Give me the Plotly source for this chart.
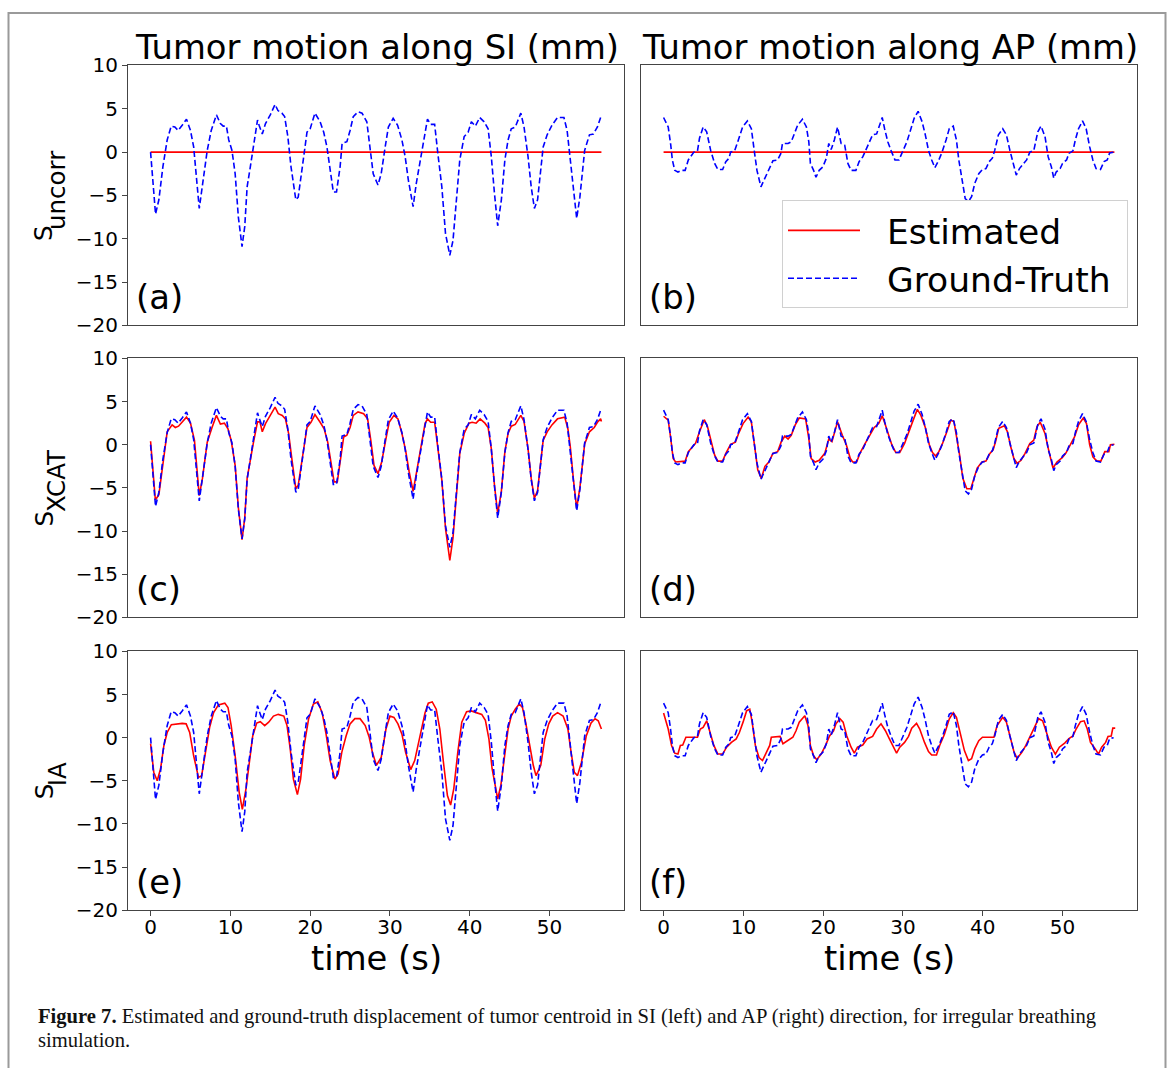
import plotly.graph_objects as go

W = 1171
HF = 1080          # figure height in page pixels
VS, VO = 0.978, 11.5   # observed vertical scale / offset of the photographed page

# ---------------- data ----------------
x_ticks = [0, 10, 20, 30, 40, 50]
y_ticks = [-20, -15, -10, -5, 0, 5, 10]

# Uncorrected estimate (constant zero)
t_uncorr = [0, 56.5]
y_uncorr_si = [0, 0]
y_uncorr_ap = [0, 0]

# Ground truth SI
t_gt_si = [0, 0.62, 1.04, 1.54, 2.08, 2.58, 3.04, 3.46, 3.96, 4.5,
           5.0, 5.4, 6.1, 6.5, 7.1, 7.6, 8.25, 8.75, 9.1, 9.5,
           9.8, 10.2, 10.6, 11.0, 11.46, 11.8, 12.1, 12.5, 12.9, 13.4,
           13.6, 14.0, 14.4, 15.0, 15.6, 15.96, 16.46, 16.8, 17.2, 17.6,
           18.2, 18.5, 18.96, 19.6, 20.0, 20.6, 21.25, 21.7, 22.1, 22.5,
           22.9, 23.3, 23.75, 24.0, 24.6, 25.0, 25.4, 26.0, 26.5, 27.1,
           27.5, 27.9, 28.5, 28.9, 29.4, 29.8, 30.4, 30.96, 31.5, 31.9,
           32.3, 32.9, 33.3, 33.9, 34.4, 34.7, 35.1, 35.6, 36.0, 36.5,
           36.96, 37.5, 37.9, 38.3, 38.75, 39.3, 39.8, 40.2, 40.7, 41.25,
           41.8, 42.3, 42.7, 43.1, 43.5, 43.96, 44.4, 44.8, 45.2, 45.7,
           46.4, 46.8, 47.3, 47.7, 48.1, 48.5, 49.2, 49.7, 50.3, 51.0,
           51.8, 52.2, 52.5, 52.9, 53.4, 53.8, 54.4, 55.0, 55.5, 56.0,
           56.4]
y_gt_si = [0, -7.15, -5.5, -1.7, 1.4, 3.0, 2.9, 2.5, 3.1, 3.8,
           2.5, 0.6, -6.5, -4.0, 0.2, 2.5, 4.3, 3.3, 3.0, 3.0,
           1.4, 0.2, -2.5, -7.5, -10.9, -8.6, -4.0, -1.7, 0.6, 3.7,
           3.1, 2.1, 3.3, 4.3, 5.5, 4.8, 4.5, 4.1, 1.8, -1.7,
           -5.5, -5.2, -2.1, 2.3, 2.7, 4.5, 3.5, 2.3, 0.6, -2.1,
           -4.6, -4.6, -1.7, 1.0, 1.2, 2.5, 4.1, 4.65, 4.5, 3.5,
           0.6, -2.5, -3.8, -2.5, 0.6, 2.9, 3.9, 3.1, 1.4, -0.5,
           -3.2, -6.3, -3.6, -0.5, 2.5, 3.8, 3.2, 3.2, -0.15, -4.0,
           -9.4, -11.9, -10.2, -5.5, -0.9, 1.8, 2.3, 3.5, 3.0, 4.0,
           3.5, 2.7, -0.5, -4.8, -8.5, -5.5, -0.9, 1.4, 2.7, 2.9,
           4.5, 2.9, -0.5, -4.0, -6.5, -5.5, 0.6, 2.0, 3.1, 4.0,
           4.0, 2.5, -0.15, -4.0, -7.65, -5.2, 0.2, 2.0, 2.1, 2.9,
           4.0]

# XCAT estimate SI
t_xcat_si = [0, 0.6, 1.04, 1.54, 2.08, 2.7, 3.1, 3.5, 4.0, 4.5,
             5.0, 5.5, 5.8, 6.1, 6.5, 7.1, 7.7, 8.25, 8.75, 9.25,
             9.7, 10.1, 10.6, 11.0, 11.46, 11.8, 12.1, 12.5, 12.9, 13.4,
             13.7, 14.0, 14.4, 15.0, 15.6, 16.0, 16.5, 16.9, 17.3, 17.7,
             18.2, 18.5, 18.96, 19.6, 20.1, 20.6, 21.25, 21.75, 22.2, 22.6,
             23.0, 23.4, 23.8, 24.2, 24.6, 25.0, 25.4, 26.0, 26.7, 27.2,
             27.6, 28.0, 28.5, 28.96, 29.5, 29.9, 30.5, 31.0, 31.5, 31.96,
             32.4, 32.9, 33.3, 33.9, 34.4, 34.7, 35.1, 35.6, 36.0, 36.5,
             36.96, 37.5, 37.9, 38.3, 38.75, 39.3, 39.9, 40.3, 40.8, 41.3,
             41.9, 42.3, 42.7, 43.1, 43.5, 43.96, 44.4, 44.8, 45.2, 45.7,
             46.4, 46.8, 47.3, 47.7, 48.1, 48.5, 49.2, 49.7, 50.3, 51.0,
             51.9, 52.3, 52.6, 53.0, 53.4, 53.8, 54.4, 55.0, 55.6, 56.0,
             56.4, 56.5]
y_xcat_si = [0.4, -6.4, -5.8, -2.0, 1.5, 2.3, 2.0, 2.15, 2.7, 3.2,
             2.5, 0.5, -2.7, -5.9, -3.9, 0.3, 2.0, 3.4, 2.4, 2.5,
             1.85, 0.5, -2.4, -7.3, -11.0, -8.5, -3.9, -1.6, 0.3, 2.65,
             2.65, 1.5, 2.45, 3.4, 4.35, 3.6, 3.4, 3.0, 1.3, -1.6,
             -5.1, -4.7, -1.9, 2.0, 2.6, 3.5, 2.6, 1.85, 0.3, -2.2,
             -4.3, -4.3, -1.6, 0.9, 1.1, 2.0, 3.4, 3.8, 3.6, 3.0,
             0.5, -2.4, -3.35, -2.0, 0.7, 2.6, 3.4, 3.0, 1.3, -0.65,
             -3.1, -5.4, -3.35, -0.4, 2.45, 3.0, 2.6, 2.6, -0.25, -4.1,
             -9.7, -13.4, -10.8, -5.8, -1.0, 1.3, 2.5, 2.6, 2.5, 3.0,
             2.5, 2.0, -0.45, -4.7, -8.0, -5.4, -0.8, 1.3, 2.15, 2.35,
             3.4, 2.7, -0.45, -3.9, -6.2, -5.3, 0.5, 1.5, 2.3, 3.0,
             3.2, 1.85, -0.25, -4.1, -7.35, -5.0, 0.1, 1.5, 2.0, 2.6,
             3.0, 2.7]

# IA estimate SI
t_ia_si = [0, 0.4, 0.83, 1.25, 1.67, 2.08, 2.6, 3.3, 3.96, 4.46,
           4.9, 5.4, 6.0, 6.4, 6.9, 7.4, 7.9, 8.5, 9.3, 9.7,
           10.1, 10.6, 11.1, 11.5, 11.96, 12.4, 12.8, 13.3, 13.75, 14.3,
           14.8, 15.4, 16.0, 16.7, 17.1, 17.5, 17.9, 18.4, 18.8, 19.25,
           19.8, 20.4, 20.96, 21.5, 21.96, 22.5, 23.1, 23.5, 23.96, 24.5,
           25.0, 25.6, 26.25, 26.9, 27.4, 27.8, 28.3, 28.9, 29.5, 30.0,
           30.5, 31.0, 31.5, 31.96, 32.6, 33.1, 33.75, 34.4, 34.8, 35.3,
           35.8, 36.25, 36.7, 37.2, 37.6, 38.0, 38.5, 39.0, 39.6, 40.2,
           40.8, 41.5, 41.96, 42.4, 42.8, 43.5, 43.9, 44.4, 44.8, 45.2,
           45.7, 46.2, 46.6, 47.0, 47.4, 47.96, 48.3, 48.9, 49.4, 49.9,
           50.4, 51.0, 51.7, 52.3, 52.7, 53.1, 53.5, 54.0, 54.6, 55.2,
           55.7, 56.1, 56.5]
y_ia_si = [-0.7, -4.0, -5.0, -3.6, -0.9, 0.6, 1.5, 1.6, 1.65, 1.6,
           0.6, -2.1, -4.6, -4.4, -1.7, 1.2, 2.9, 3.8, 4.0, 3.5,
           1.4, -2.1, -6.3, -8.3, -5.9, -2.5, 0.2, 1.7, 1.85, 1.4,
           1.8, 2.5, 2.7, 2.5, 1.4, -1.3, -4.8, -6.6, -4.8, -0.9,
           2.15, 3.9, 4.15, 2.9, 0.6, -2.65, -4.8, -4.2, -1.7, 0.2,
           1.6, 2.2, 2.2, 1.4, 0.05, -1.7, -3.2, -2.3, 1.0, 2.5,
           2.35, 1.6, 0.4, -1.7, -3.7, -2.65, 0.2, 2.9, 4.0, 4.15,
           3.3, 1.0, -2.85, -6.7, -7.8, -5.9, -1.7, 1.8, 3.0, 3.1,
           2.9, 2.7, 2.0, -0.15, -3.6, -7.1, -5.5, -1.7, 1.0, 2.5,
           3.3, 3.9, 3.5, 1.8, -0.5, -3.2, -4.4, -3.2, -0.15, 1.6,
           2.5, 2.9, 2.5, 1.0, -1.7, -4.0, -4.4, -2.85, 0.2, 1.7,
           2.2, 1.95, 1.0]

# Ground truth AP
t_gt_ap = [0, 0.58, 0.875, 1.1, 1.4, 1.8, 2.25, 2.7, 3.1, 3.5,
           3.8, 4.25, 4.5, 4.96, 5.4, 5.9, 6.4, 6.8, 7.4, 7.8,
           8.2, 8.4, 8.9, 9.3, 9.9, 10.5, 11.0, 11.3, 11.7, 12.2,
           12.7, 13.2, 13.7, 14.3, 14.7, 14.9, 15.6, 16.0, 16.4, 16.8,
           17.4, 17.9, 18.2, 18.4, 18.8, 19.1, 19.5, 19.96, 20.4, 20.7,
           21.0, 21.4, 21.8, 22.25, 22.7, 23.1, 23.5, 24.1, 24.5, 24.96,
           25.3, 25.7, 26.2, 26.7, 27.0, 27.4, 27.7, 28.1, 28.5, 29.0,
           29.5, 29.96, 30.5, 31.0, 31.4, 31.9, 32.4, 32.8, 33.2, 33.6,
           34.0, 34.5, 34.9, 35.4, 35.8, 36.3, 36.7, 37.0, 37.4, 37.8,
           38.2, 38.6, 39.0, 39.5, 39.96, 40.4, 40.8, 41.2, 41.5, 41.96,
           42.5, 42.96, 43.4, 43.8, 44.2, 44.6, 45.0, 45.5, 45.9, 46.4,
           46.9, 47.3, 47.8, 48.2, 48.6, 48.9, 49.2, 49.7, 50.0, 50.5,
           50.8, 51.3, 51.6, 52.0, 52.5, 52.96, 53.4, 53.8, 54.2, 54.75,
           55.2, 55.6, 55.9, 56.4]
y_gt_ap = [4.0, 2.9, 1.0, -0.9, -2.1, -2.3, -2.1, -2.1, -0.9, -0.35,
           0.0, 0.15, 1.6, 2.9, 2.35, 0.2, -1.3, -2.0, -2.0, -1.1,
           -0.7, 0.0, 0.15, 1.2, 2.9, 3.6, 2.7, 0.6, -2.1, -4.0,
           -3.0, -2.1, -1.0, -0.9, -0.15, 1.0, 1.0, 1.2, 2.15, 3.1,
           3.8, 2.9, 1.2, -1.3, -2.1, -2.9, -2.1, -1.7, -0.7, 1.0,
           0.3, 1.4, 2.9, 1.0, 0.8, -1.3, -2.1, -2.1, -1.1, -0.55,
           0.15, 1.0, 2.0, 2.1, 2.9, 4.0, 2.7, 1.2, 0.2, -0.9,
           -0.9, 0.0, 1.2, 2.7, 3.9, 4.7, 3.5, 2.0, 0.2, -0.9,
           -1.8, -0.9, 0.0, 1.4, 2.7, 3.0, 1.4, -0.9, -3.2, -5.35,
           -5.7, -5.15, -3.6, -2.5, -2.0, -1.9, -1.1, -0.7, 0.2, 2.0,
           2.7, 2.0, 0.2, -1.3, -2.65, -1.9, -1.5, -0.9, 0.0, 0.2,
           2.35, 3.0, 1.8, -0.55, -1.7, -3.0, -2.3, -1.9, -1.3, -0.9,
           -0.15, 0.15, 1.4, 2.7, 3.6, 2.7, 0.6, -0.9, -1.9, -2.0,
           -1.1, -0.9, -0.1, 0.0]

# XCAT estimate AP
t_xcat_ap = [0, 0.58, 0.9, 1.2, 1.5, 2.7, 3.1, 3.5, 4.0, 4.5,
             5.1, 5.5, 6.0, 6.4, 6.8, 7.4, 7.8, 8.4, 9.0, 9.4,
             9.96, 10.6, 11.0, 11.4, 11.8, 12.25, 12.7, 13.2, 13.7, 14.3,
             14.75, 15.2, 15.6, 16.0, 16.5, 17.0, 17.8, 18.2, 18.5, 19.0,
             19.5, 20.2, 20.7, 21.1, 21.5, 21.8, 22.4, 22.9, 23.4, 23.7,
             24.2, 24.6, 25.2, 25.8, 26.4, 26.96, 27.4, 27.8, 28.2, 28.6,
             29.1, 29.6, 30.2, 30.7, 31.2, 31.8, 32.25, 32.8, 33.3, 33.7,
             34.1, 34.5, 34.96, 35.5, 36.0, 36.4, 36.8, 37.1, 37.5, 38.0,
             38.5, 38.9, 39.3, 39.9, 40.4, 40.9, 41.3, 41.6, 42.0, 42.7,
             43.1, 43.5, 43.9, 44.3, 44.8, 45.3, 45.9, 46.4, 46.8, 47.2,
             47.8, 48.3, 48.8, 49.3, 49.96, 50.4, 50.99, 51.5, 52.0, 52.6,
             53.0, 53.4, 53.8, 54.3, 54.8, 55.3, 55.8, 56.0, 56.5]
y_xcat_ap = [3.3, 2.85, 0.7, -1.6, -2.0, -1.9, -0.8, -0.4, 0.15, 1.5,
             2.9, 2.1, 0.15, -1.2, -1.9, -1.9, -1.0, 0.05, 0.3, 1.3,
             2.45, 3.2, 2.65, 0.0, -2.9, -3.9, -2.5, -2.0, -1.0, -0.8,
             0.35, 1.0, 0.65, 1.1, 2.3, 3.1, 3.0, 0.7, -1.6, -2.0,
             -1.8, -1.0, 0.65, 0.35, 1.7, 2.65, 1.1, 0.0, -1.6, -2.0,
             -2.0, -1.0, 0.05, 1.1, 2.0, 2.45, 3.35, 2.3, 1.1, 0.0,
             -0.9, -0.9, 0.15, 1.5, 2.65, 4.1, 3.4, 2.0, 0.0, -0.9,
             -1.3, -0.8, 0.15, 1.5, 2.85, 2.65, 0.7, -1.2, -3.9, -5.1,
             -5.1, -3.9, -2.7, -2.0, -1.9, -1.0, -0.6, 0.35, 1.9, 2.2,
             1.5, -0.2, -1.6, -2.15, -1.8, -1.0, 0.15, 0.55, 2.1, 2.6,
             1.3, -0.8, -2.7, -2.0, -1.5, -1.0, 0.05, 0.9, 2.3, 3.1,
             2.45, 0.0, -1.4, -1.9, -1.9, -0.8, -0.8, 0.0, 0.05]

# IA estimate AP
t_ia_ap = [0, 0.58, 1.0, 1.4, 1.8, 2.1, 2.4, 2.8, 3.3, 4.25,
           4.6, 4.96, 5.4, 5.8, 6.3, 6.8, 7.4, 7.9, 8.5, 9.1,
           9.5, 9.96, 10.4, 10.8, 11.1, 11.5, 11.96, 12.4, 12.8, 13.3,
           13.5, 14.1, 14.6, 14.96, 15.6, 16.2, 16.6, 17.0, 17.7, 18.1,
           18.4, 18.8, 19.2, 19.75, 20.3, 20.8, 21.3, 21.6, 22.1, 22.5,
           22.96, 23.5, 23.9, 24.3, 24.96, 25.5, 26.2, 26.7, 27.25, 27.8,
           28.3, 28.8, 29.2, 29.6, 30.2, 30.7, 31.1, 31.7, 32.1, 32.7,
           33.2, 33.6, 34.2, 34.6, 35.2, 35.8, 36.3, 36.7, 37.1, 37.7,
           38.2, 38.6, 39.0, 39.5, 39.96, 41.4, 41.8, 42.5, 42.96, 43.4,
           43.9, 44.3, 44.9, 45.4, 46.0, 46.5, 47.0, 47.5, 48.1, 48.6,
           49.1, 49.6, 50.3, 50.8, 51.3, 51.7, 52.25, 52.7, 53.1, 53.5,
           54.1, 54.5, 54.9, 55.4, 55.7, 56.1, 56.3, 56.6]
y_ia_ap = [2.85, 1.0, -0.9, -1.8, -1.9, -0.9, -0.85, 0.05, 0.05, 0.05,
           1.0, 1.2, 1.95, 0.8, -0.9, -1.9, -1.9, -1.1, -0.55, -0.15,
           0.6, 1.8, 3.1, 3.3, 1.8, -0.9, -2.3, -2.65, -1.9, -0.9,
           0.05, 0.15, 0.15, -0.7, -0.35, 0.05, 0.8, 1.8, 2.55, 1.4,
           -0.9, -2.1, -2.55, -1.9, -0.9, 0.2, 0.8, 1.6, 2.2, 1.8,
           0.2, -1.1, -1.8, -1.1, -0.85, -0.15, 0.15, 1.0, 1.6, 0.8,
           -0.15, -1.1, -1.8, -1.1, -0.55, 0.15, 1.1, 1.65, 1.0, -0.55,
           -1.6, -2.0, -2.0, -0.9, 0.4, 2.15, 2.9, 2.35, 0.8, -1.5,
           -2.65, -2.45, -1.3, -0.35, 0.05, 0.05, 1.4, 2.35, 1.8, 0.05,
           -1.6, -2.4, -1.7, -0.9, 0.2, 1.2, 2.2, 1.95, 0.2, -1.1,
           -1.9, -1.1, -0.6, -0.1, 0.2, 1.0, 1.85, 1.95, 1.0, -0.55,
           -1.3, -1.9, -1.1, -0.55, 0.15, 0.2, 1.1, 1.1]

col_titles = ["Tumor motion along SI (mm)", "Tumor motion along AP (mm)"]
row_labels = [("S", "uncorr"), ("S", "XCAT"), ("S", "IA")]
panel_letters = ["(a)", "(b)", "(c)", "(d)", "(e)", "(f)"]
legend_names = ["Estimated", "Ground-Truth"]
x_label = "time (s)"
caption_line1 = ("<b>Figure 7.</b> Estimated and ground-truth displacement of tumor centroid "
                 "in SI (left) and AP (right) direction, for irregular breathing")
caption_line2 = "simulation."

# ---------------- layout geometry (target pixels in the 1171x1068 picture) ----------------
COL_PX = [(128, 624), (641, 1137)]
ROW_PX = [(65, 325), (358, 617), (651, 910)]
X_RANGE = [-2.83, 59.33]
Y_RANGE = [-20, 10]
SPINE = "#444444"
FONT = "DejaVu Sans"
RED = "#ff0000"
BLUE = "#0000ff"
NBSP = "\u00a0"
BIG = 33.8


def fx(p):
    return p / W


def fy(p):
    page = (p - VO) / VS
    return 1 - page / HF


panels = [
    (t_uncorr, y_uncorr_si, t_gt_si, y_gt_si),
    (t_uncorr, y_uncorr_ap, t_gt_ap, y_gt_ap),
    (t_xcat_si, y_xcat_si, t_gt_si, y_gt_si),
    (t_xcat_ap, y_xcat_ap, t_gt_ap, y_gt_ap),
    (t_ia_si, y_ia_si, t_gt_si, y_gt_si),
    (t_ia_ap, y_ia_ap, t_gt_ap, y_gt_ap),
]

fig = go.Figure()
layout_axes = {}
for i, (te, ye, tg, yg) in enumerate(panels):
    n = i + 1
    row, col = i // 2, i % 2
    xa = "x" if n == 1 else f"x{n}"
    ya = "y" if n == 1 else f"y{n}"
    fig.add_trace(go.Scatter(x=te, y=ye, mode="lines", xaxis=xa, yaxis=ya,
                             name=NBSP * 2 + legend_names[0], legendgroup="est",
                             showlegend=(n == 1), hoverinfo="skip",
                             line=dict(color=RED, width=1.6)))
    fig.add_trace(go.Scatter(x=tg, y=yg, mode="lines", xaxis=xa, yaxis=ya,
                             name=NBSP * 2 + legend_names[1] + NBSP, legendgroup="gt",
                             showlegend=(n == 1), hoverinfo="skip",
                             line=dict(color=BLUE, width=1.6, dash="6px,3px")))
    c0, c1 = COL_PX[col]
    r0, r1 = ROW_PX[row]
    xkey = "xaxis" if n == 1 else f"xaxis{n}"
    ykey = "yaxis" if n == 1 else f"yaxis{n}"
    bottom = row == 2
    left = col == 0
    layout_axes[xkey] = dict(
        domain=[fx(c0), fx(c1)], range=X_RANGE, anchor=ya,
        showline=True, linecolor=SPINE, linewidth=1.2, mirror=True,
        showgrid=False, zeroline=False,
        tickmode="array", tickvals=x_ticks if bottom else [],
        ticks="outside" if bottom else "", ticklen=5, tickcolor=SPINE,
        showticklabels=bottom, ticklabelstandoff=-6,
        tickfont=dict(family=FONT, size=20, color="black"),
    )
    layout_axes[ykey] = dict(
        domain=[fy(r1), fy(r0)], range=Y_RANGE, anchor=xa,
        showline=True, linecolor=SPINE, linewidth=1.2, mirror=True,
        showgrid=False, zeroline=False,
        tickmode="array", tickvals=y_ticks if left else [],
        ticks="outside" if left else "", ticklen=5, tickcolor=SPINE,
        showticklabels=left,
        tickfont=dict(family=FONT, size=20, color="black"),
    )

annotations = []
for col, title in enumerate(col_titles):
    c0, c1 = COL_PX[col]
    annotations.append(dict(text=title, x=fx((c0 + c1) / 2 + 1), y=fy(47),
                            xref="paper", yref="paper", xanchor="center", yanchor="middle",
                            showarrow=False, font=dict(family=FONT, size=BIG, color="black")))
    annotations.append(dict(text=x_label, x=fx((c0 + c1) / 2), y=fy(958),
                            xref="paper", yref="paper", xanchor="center", yanchor="middle",
                            showarrow=False, borderpad=0,
                            font=dict(family=FONT, size=BIG, color="black")))

SUB_W = {"uncorr": 78, "XCAT": 64, "IA": 24}
for row, (main, sub) in enumerate(row_labels):
    r0, r1 = ROW_PX[row]
    rc = (r0 + r1) / 2
    L = 15 + SUB_W[sub]
    annotations.append(dict(text=main, x=fx(44), y=fy(rc + L / 2), textangle=-90,
                            xref="paper", yref="paper", xanchor="center", yanchor="bottom",
                            showarrow=False, borderpad=0,
                            font=dict(family=FONT, size=24.5, color="black")))
    annotations.append(dict(text=sub, x=fx(57), y=fy(rc - L / 2), textangle=-90,
                            xref="paper", yref="paper", xanchor="center", yanchor="top",
                            showarrow=False, borderpad=0,
                            font=dict(family=FONT, size=24.5, color="black")))

for i, letter in enumerate(panel_letters):
    row, col = i // 2, i % 2
    c0, _ = COL_PX[col]
    _, r1 = ROW_PX[row]
    annotations.append(dict(text=letter, x=fx(c0 + 7), y=fy(r1 - 28),
                            xref="paper", yref="paper", xanchor="left", yanchor="middle",
                            showarrow=False, borderpad=0,
                            font=dict(family=FONT, size=BIG, color="black")))

for text, ypx in ((caption_line1, 1016), (caption_line2, 1040)):
    annotations.append(dict(text=text, x=fx(36), y=fy(ypx), xref="paper", yref="paper",
                            xanchor="left", yanchor="middle", align="left", showarrow=False,
                            font=dict(family="Liberation Serif", size=20.6, color="#111111")))

fig.update_layout(
    width=W, height=HF,
    margin=dict(l=0, r=0, t=0, b=0),
    paper_bgcolor="white", plot_bgcolor="white",
    annotations=annotations,
    showlegend=True,
    hovermode=False,
    legend=dict(x=fx(782), y=fy(200), xanchor="left", yanchor="top",
                bgcolor="rgba(255,255,255,0.85)", bordercolor="#d0d0d0", borderwidth=1,
                font=dict(family=FONT, size=34.5, color="black"),
                itemwidth=72, tracegroupgap=0, traceorder="grouped"),
    shapes=[dict(type="rect", xref="paper", yref="paper",
                 x0=fx(8.5), x1=fx(1165.5), y0=-0.02, y1=1 - 1.0 / HF,
                 line=dict(color="#9a9a9a", width=2), fillcolor="rgba(0,0,0,0)",
                 layer="below")],
    **layout_axes,
)

page_fix = ("var gd=document.getElementById('{plot_id}');"
            "gd.style.position='fixed';gd.style.top='0px';gd.style.left='0px';"
            "document.documentElement.style.margin='0';document.body.style.margin='0';"
            "document.body.style.padding='0';"
            "document.documentElement.style.overflow='hidden';"
            "document.body.style.overflow='hidden';")
fig.write_html("out.html", post_script=page_fix, config={"displayModeBar": False})
